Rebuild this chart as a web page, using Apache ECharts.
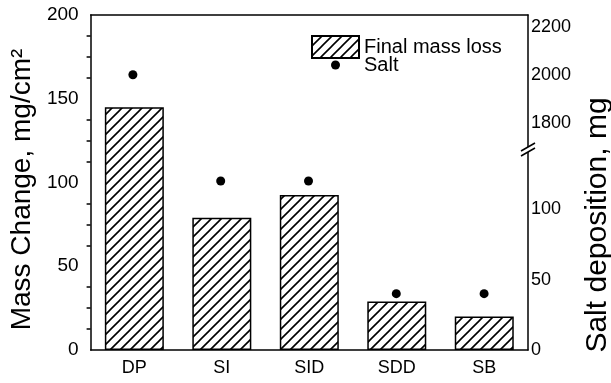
<!DOCTYPE html>
<html>
<head>
<meta charset="utf-8">
<script src="https://cdn.jsdelivr.net/npm/echarts@6/dist/echarts.min.js"></script>
<style>
  html, body { margin: 0; padding: 0; background: #fff; }
  #chart { width: 611px; height: 383px; }
</style>
</head>
<body>
<div id="chart"></div>
<script>
// mass loss bars (left axis) + salt deposition dots on a broken right axis
const categories = ["DP", "SI", "SID", "SDD", "SB"];
const massLoss = [145, 79, 92.5, 29, 20];
const saltDeposition = [2000, 120, 120, 40, 40];

const saltHighTicks = [1800, 2000, 2200];
const saltHighMinor = [1700, 1900, 2100];
const saltLowTicks = [0, 50, 100];
const saltLowMinor = [25, 75, 125];
const SALT_BREAK = 1000; // above this the dot goes on the upper segment

const FONT = "'Liberation Sans', Arial, sans-serif";

function hatchPattern() {
  const s = 10;
  const c = document.createElement("canvas");
  c.width = s;
  c.height = s;
  const g = c.getContext("2d");
  g.fillStyle = "#fff";
  g.fillRect(0, 0, s, s);
  g.strokeStyle = "#000";
  g.lineWidth = 1.6;
  g.beginPath();
  g.moveTo(-2, s + 2); g.lineTo(s + 2, -2);
  g.moveTo(-2, 2); g.lineTo(2, -2);
  g.moveTo(s - 2, s + 2); g.lineTo(s + 2, s - 2);
  g.stroke();
  return c;
}

const chart = echarts.init(document.getElementById("chart"), null, { renderer: "canvas" });

const gridSide = { left: 89, right: 83 };
const axisLine = { show: true, lineStyle: { color: "#000", width: 1.5 } };
const label = { color: "#000", fontSize: 18, fontFamily: FONT, formatter: (v) => String(v) };
const hiddenX = (gridIndex) => ({
  type: "category", gridIndex, data: categories, show: false
});

chart.setOption({
  animation: false,
  textStyle: { fontFamily: FONT },
  grid: [
    { ...gridSide, top: 15, bottom: 33 },
    { ...gridSide, top: 15, height: 131.5 },
    { ...gridSide, top: 150, bottom: 33 }
  ],
  legend: [
    {
      data: ["Final mass loss"],
      left: 311, top: 35, padding: 0,
      itemWidth: 47, itemHeight: 22, icon: "rect",
      textStyle: { fontSize: 20, color: "#000", fontFamily: FONT }
    },
    {
      data: ["Salt"],
      left: 331, top: 55, padding: 0,
      itemWidth: 47, itemHeight: 9, icon: "circle",
      textStyle: { fontSize: 20, color: "#000", fontFamily: FONT }
    }
  ],
  xAxis: [
    {
      type: "category", gridIndex: 0, data: categories, position: "bottom",
      axisLine,
      axisTick: { alignWithLabel: true, length: 6, lineStyle: { color: "#000", width: 1.5 } },
      axisLabel: { ...label, margin: 9 }
    },
    {
      type: "category", gridIndex: 0, data: categories, position: "top",
      axisLine,
      axisTick: { alignWithLabel: true, inside: true, length: 5, lineStyle: { color: "#000", width: 1.5 } },
      axisLabel: { show: false }
    },
    hiddenX(1),
    hiddenX(2)
  ],
  yAxis: [
    {
      type: "value", gridIndex: 0, min: 0, max: 200, interval: 50,
      name: "Mass Change, mg/cm\u00b2", nameLocation: "middle", nameGap: 52,
      nameTextStyle: { fontSize: 28, color: "#000", fontFamily: FONT, padding: [0, 14, 0, 0] },
      axisLine,
      axisTick: { length: 8, lineStyle: { color: "#000", width: 1.5 } },
      minorTick: { show: true, splitNumber: 4, length: 4, lineStyle: { color: "#000", width: 1.5 } },
      axisLabel: { ...label, fontSize: 19, margin: 12 },
      splitLine: { show: false }
    },
    {
      type: "value", gridIndex: 1, position: "right", min: 1700, max: 2250,
      axisLine,
      axisTick: { customValues: saltHighTicks, inside: true, length: 6, lineStyle: { color: "#000", width: 1.5 } },
      axisLabel: { ...label, customValues: saltHighTicks, margin: 3 },
      splitLine: { show: false }
    },
    {
      type: "value", gridIndex: 1, position: "right", min: 1700, max: 2250,
      axisLine: { show: false },
      axisTick: { customValues: saltHighMinor, inside: true, length: 3, lineStyle: { color: "#000", width: 1.5 } },
      axisLabel: { show: false },
      splitLine: { show: false }
    },
    {
      type: "value", gridIndex: 2, position: "right", min: 0, max: 142,
      axisLine,
      axisTick: { customValues: saltLowTicks, inside: true, length: 6, lineStyle: { color: "#000", width: 1.5 } },
      axisLabel: { ...label, customValues: saltLowTicks, margin: 3 },
      splitLine: { show: false }
    },
    {
      type: "value", gridIndex: 2, position: "right", min: 0, max: 142,
      axisLine: { show: false },
      axisTick: { customValues: saltLowMinor, inside: true, length: 3, lineStyle: { color: "#000", width: 1.5 } },
      axisLabel: { show: false },
      splitLine: { show: false }
    }
  ],
  series: [
    {
      name: "Final mass loss",
      type: "bar",
      xAxisIndex: 0, yAxisIndex: 0,
      data: massLoss,
      barWidth: 59,
      itemStyle: {
        color: { image: hatchPattern(), repeat: "repeat" },
        borderColor: "#000",
        borderWidth: 1.5
      }
    },
    {
      name: "Salt",
      type: "scatter",
      xAxisIndex: 2, yAxisIndex: 1,
      data: saltDeposition.map((v) => (v > SALT_BREAK ? v : "-")),
      symbolSize: 9,
      itemStyle: { color: "#000", opacity: 1 },
      z: 5
    },
    {
      name: "Salt",
      type: "scatter",
      xAxisIndex: 3, yAxisIndex: 3,
      data: saltDeposition.map((v) => (v > SALT_BREAK ? "-" : v)),
      symbolSize: 9,
      itemStyle: { color: "#000", opacity: 1 },
      z: 5
    }
  ],
  graphic: [
    {
      type: "polygon",
      shape: { points: [[521, 151], [535, 143], [535, 148], [521, 156]] },
      style: { fill: "#fff", stroke: null },
      z: 100
    },
    {
      type: "line",
      shape: { x1: 521, y1: 151, x2: 535, y2: 143 },
      style: { stroke: "#000", lineWidth: 1.5 },
      z: 101
    },
    {
      type: "line",
      shape: { x1: 521, y1: 156, x2: 535, y2: 148 },
      style: { stroke: "#000", lineWidth: 1.5 },
      z: 101
    },
    {
      type: "text",
      x: 598, y: 225,
      rotation: Math.PI / 2,
      style: {
        text: "Salt deposition, mg",
        fontSize: 30,
        fontFamily: FONT,
        fill: "#000",
        align: "center",
        verticalAlign: "middle"
      }
    }
  ]
});
</script>
</body>
</html>
